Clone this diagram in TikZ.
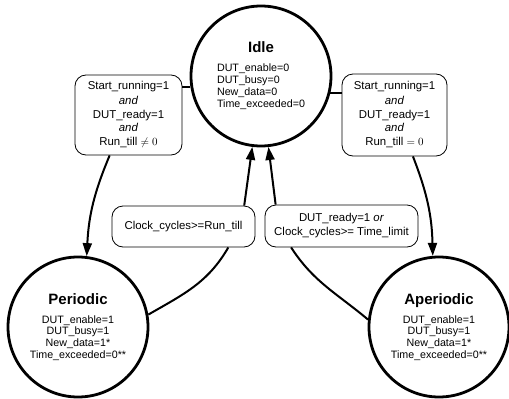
\documentclass[tikz,border=0pt]{standalone}
\usepackage{fontspec}
\setmainfont{Liberation Sans}
\usepackage{tikz}
\usetikzlibrary{arrows.meta}
\newcommand{\titlefont}{\fontsize{15}{16}\selectfont\bfseries}
\tikzset{
  state/.style={circle, draw, line width=2.8pt, minimum size=140pt,
                inner sep=0pt, align=center,
                font=\fontsize{10.7}{11.7}\selectfont},
  cond/.style={draw, rounded corners=11pt, line width=.8pt, fill=white,
               align=center, inner sep=0pt,
               font=\fontsize{11.4}{14}\selectfont},
  edge/.style={line width=2pt},
  arrow/.style={edge, -{Triangle[length=13pt, width=9pt]}}
}

\begin{document}
\begin{tikzpicture}[x=1pt, y=-1pt]
  \useasboundingbox (0,0) rectangle (509,399);

  % states
  \node[state] (idle) at (261,76) {{\titlefont Idle}\\[8pt]
    \begin{tabular}[t]{@{}l@{}}DUT\_enable=0\\DUT\_busy=0\\New\_data=0\\Time\_exceeded=0\end{tabular}};
  \node[state] (periodic) at (78,327) {{\titlefont Periodic}\\[7pt]
    DUT\_enable=1\\DUT\_busy=1\\New\_data=1*\\Time\_exceeded=0**};
  \node[state] (aperiodic) at (439,327) {{\titlefont Aperiodic}\\[7pt]
    DUT\_enable=1\\DUT\_busy=1\\New\_data=1*\\Time\_exceeded=0**};

  % transition conditions
  \node[cond, minimum width=107pt, minimum height=80pt] (startp) at (128.5,115)
    {Start\_running=1\\\textit{and}\\DUT\_ready=1\\\textit{and}\\Run\_till $\neq 0$};
  \node[cond, minimum width=105pt, minimum height=82pt] (starta) at (394.5,115)
    {Start\_running=1\\\textit{and}\\DUT\_ready=1\\\textit{and}\\Run\_till $= 0$};
  \node[cond, minimum width=143pt, minimum height=41pt] (donep) at (183.5,226.5)
    {Clock\_cycles>=Run\_till};
  \node[cond, minimum width=153pt, minimum height=42pt] (donea) at (341.5,226)
    {DUT\_ready=1 \textit{or}\\Clock\_cycles>= Time\_limit};

  % idle -> periodic / aperiodic
  \draw[edge] (idle.189) -- (startp.east |- idle.189);
  \draw[arrow] (startp.-115) to[bend right=10] (periodic.83);
  \draw[edge] (idle.-14) -- (starta.west |- idle.-14);
  \draw[arrow] (starta.-66) to[bend left=10] (aperiodic.95);

  % back to idle
  \draw[edge] (periodic.10) to[out=30, in=-120] (donep.-25);
  \draw[arrow] (donep.19) -- (idle.-97);
  \draw[edge] (aperiodic.174) to[out=140, in=-57] (donea.-157);
  \draw[arrow] (donea.162) -- (idle.-84);
\end{tikzpicture}
\end{document}
